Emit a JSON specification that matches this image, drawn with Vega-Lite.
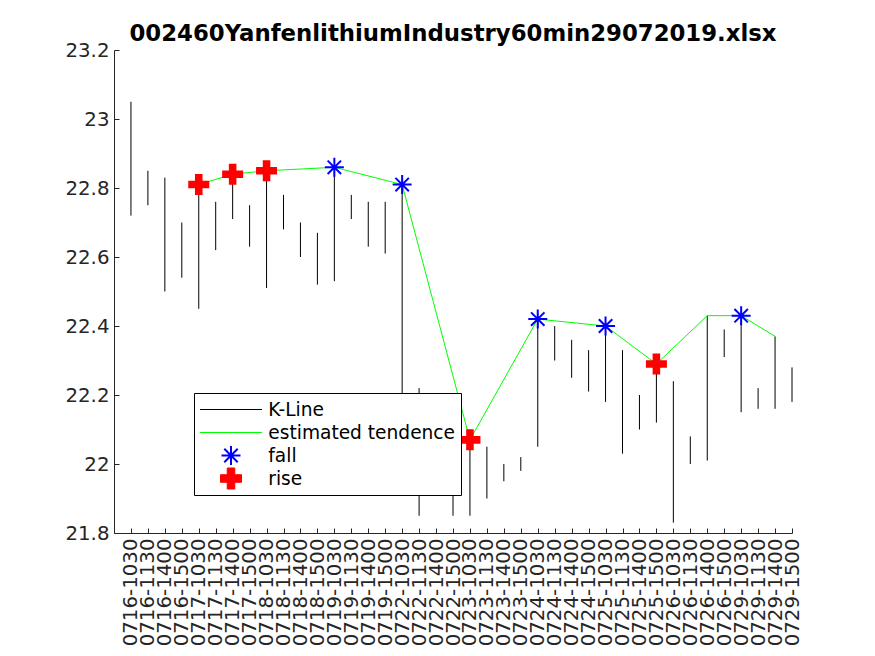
{
  "$schema": "https://vega.github.io/schema/vega-lite/v6.json",
  "width": 678,
  "height": 483,
  "autosize": {"type": "none"},
  "padding": {"left": 114, "top": 50, "right": 83, "bottom": 123},
  "background": "white",
  "title": {
    "text": "002460YanfenlithiumIndustry60min29072019.xlsx",
    "font": "DejaVu Sans",
    "fontSize": 22.8,
    "fontWeight": "bold",
    "color": "black",
    "anchor": "middle",
    "frame": "group",
    "baseline": "alphabetic",
    "offset": 8,
    "dy": 31.5
  },
  "config": {
    "view": {"stroke": null},
    "axis": {
      "grid": false,
      "domainColor": "#262626",
      "tickColor": "#262626",
      "labelColor": "#262626",
      "labelFont": "DejaVu Sans",
      "labelFontSize": 19.8,
      "tickSize": -5,
      "title": null
    }
  },
  "data": {
    "values": [
      {"t": "0716-1030", "lo": 22.72, "hi": 23.05},
      {"t": "0716-1130", "lo": 22.75, "hi": 22.85},
      {"t": "0716-1400", "lo": 22.50, "hi": 22.83},
      {"t": "0716-1500", "lo": 22.54, "hi": 22.70},
      {"t": "0717-1030", "lo": 22.45, "hi": 22.81, "tend": 22.81, "sig": "rise"},
      {"t": "0717-1130", "lo": 22.62, "hi": 22.76},
      {"t": "0717-1400", "lo": 22.71, "hi": 22.84, "tend": 22.84, "sig": "rise"},
      {"t": "0717-1500", "lo": 22.63, "hi": 22.75},
      {"t": "0718-1030", "lo": 22.51, "hi": 22.85, "tend": 22.85, "sig": "rise"},
      {"t": "0718-1130", "lo": 22.68, "hi": 22.78},
      {"t": "0718-1400", "lo": 22.60, "hi": 22.70},
      {"t": "0718-1500", "lo": 22.52, "hi": 22.67},
      {"t": "0719-1030", "lo": 22.53, "hi": 22.86, "tend": 22.86, "sig": "fall"},
      {"t": "0719-1130", "lo": 22.71, "hi": 22.78},
      {"t": "0719-1400", "lo": 22.63, "hi": 22.76},
      {"t": "0719-1500", "lo": 22.61, "hi": 22.76},
      {"t": "0722-1030", "lo": 22.10, "hi": 22.81, "tend": 22.81, "sig": "fall"},
      {"t": "0722-1130", "lo": 21.85, "hi": 22.22},
      {"t": "0722-1400", "lo": 21.95, "hi": 22.15},
      {"t": "0722-1500", "lo": 21.85, "hi": 22.10},
      {"t": "0723-1030", "lo": 21.85, "hi": 22.07, "tend": 22.07, "sig": "rise"},
      {"t": "0723-1130", "lo": 21.90, "hi": 22.05},
      {"t": "0723-1400", "lo": 21.95, "hi": 22.00},
      {"t": "0723-1500", "lo": 21.98, "hi": 22.02},
      {"t": "0724-1030", "lo": 22.05, "hi": 22.42, "tend": 22.42, "sig": "fall"},
      {"t": "0724-1130", "lo": 22.30, "hi": 22.40},
      {"t": "0724-1400", "lo": 22.25, "hi": 22.36},
      {"t": "0724-1500", "lo": 22.21, "hi": 22.33},
      {"t": "0725-1030", "lo": 22.18, "hi": 22.40, "tend": 22.40, "sig": "fall"},
      {"t": "0725-1130", "lo": 22.03, "hi": 22.33},
      {"t": "0725-1400", "lo": 22.10, "hi": 22.20},
      {"t": "0725-1500", "lo": 22.12, "hi": 22.29, "tend": 22.29, "sig": "rise"},
      {"t": "0726-1030", "lo": 21.83, "hi": 22.24},
      {"t": "0726-1130", "lo": 22.00, "hi": 22.08},
      {"t": "0726-1400", "lo": 22.01, "hi": 22.43, "tend": 22.43},
      {"t": "0726-1500", "lo": 22.31, "hi": 22.39},
      {"t": "0729-1030", "lo": 22.15, "hi": 22.43, "tend": 22.43, "sig": "fall"},
      {"t": "0729-1130", "lo": 22.16, "hi": 22.22},
      {"t": "0729-1400", "lo": 22.16, "hi": 22.37, "tend": 22.37},
      {"t": "0729-1500", "lo": 22.18, "hi": 22.28}
    ]
  },
  "encoding": {
    "x": {
      "field": "t",
      "type": "ordinal",
      "scale": {
        "type": "point",
        "padding": 0,
        "domain": ["", "0716-1030","0716-1130","0716-1400","0716-1500","0717-1030","0717-1130","0717-1400","0717-1500","0718-1030","0718-1130","0718-1400","0718-1500","0719-1030","0719-1130","0719-1400","0719-1500","0722-1030","0722-1130","0722-1400","0722-1500","0723-1030","0723-1130","0723-1400","0723-1500","0724-1030","0724-1130","0724-1400","0724-1500","0725-1030","0725-1130","0725-1400","0725-1500","0726-1030","0726-1130","0726-1400","0726-1500","0729-1030","0729-1130","0729-1400","0729-1500"]
      },
      "axis": {
        "values": ["0716-1030","0716-1130","0716-1400","0716-1500","0717-1030","0717-1130","0717-1400","0717-1500","0718-1030","0718-1130","0718-1400","0718-1500","0719-1030","0719-1130","0719-1400","0719-1500","0722-1030","0722-1130","0722-1400","0722-1500","0723-1030","0723-1130","0723-1400","0723-1500","0724-1030","0724-1130","0724-1400","0724-1500","0725-1030","0725-1130","0725-1400","0725-1500","0726-1030","0726-1130","0726-1400","0726-1500","0729-1030","0729-1130","0729-1400","0729-1500"],
        "labelAngle": -90,
        "labelPadding": 10,
        "labelOverlap": false
      }
    }
  },
  "layer": [
    {
      "mark": {"type": "rule", "strokeWidth": 1},
      "encoding": {
        "y": {
          "field": "lo",
          "type": "quantitative",
          "scale": {"domain": [21.8, 23.2], "nice": false, "zero": false},
          "axis": {
            "values": [21.8, 22, 22.2, 22.4, 22.6, 22.8, 23, 23.2],
            "format": ".1~f",
            "labelPadding": 10
          }
        },
        "y2": {"field": "hi"},
        "color": {
          "datum": "K-Line",
          "title": null,
          "scale": {
            "domain": ["K-Line", "estimated tendence", "fall", "rise"],
            "range": ["black", "#00ff00", "blue", "red"]
          },
          "legend": {
            "title": null,
            "orient": "none",
            "legendX": 80,
            "legendY": 343,
            "direction": "vertical",
            "columns": 1,
            "fillColor": "white",
            "strokeColor": "black",
            "padding": 5,
            "labelFont": "DejaVu Sans",
            "labelFontSize": 18.6,
            "labelColor": "black",
            "labelLimit": 0,
            "labelOffset": 28,
            "symbolOffset": 22.7,
            "symbolSize": 3844,
            "symbolType": "stroke",
            "clipHeight": 23,
            "rowPadding": 0,
            "encode": {
              "symbols": {
                "update": {
                  "shape": {"signal": "datum.value === 'fall' ? 'M0,-1V1M-1,0H1M-0.7071,-0.7071L0.7071,0.7071M-0.7071,0.7071L0.7071,-0.7071' : datum.value === 'rise' ? 'M-0.36,-1H0.36V-0.36H1V0.36H0.36V1H-0.36V0.36H-1V-0.36H-0.36Z' : 'stroke'"},
                  "size": {"signal": "datum.value === 'fall' ? 361 : datum.value === 'rise' ? 441 : 3844"},
                  "fill": {"signal": "datum.value === 'rise' ? 'red' : 'transparent'"},
                  "stroke": {"signal": "datum.value === 'K-Line' ? 'black' : datum.value === 'estimated tendence' ? '#00ff00' : datum.value === 'fall' ? 'blue' : 'transparent'"},
                  "strokeWidth": {"signal": "datum.value === 'fall' ? 2 : 1"},
                  "opacity": {"value": 1}
                }
              }
            }
          }
        }
      }
    },
    {
      "transform": [{"filter": "isValid(datum.tend)"}],
      "mark": {"type": "line", "strokeWidth": 1},
      "encoding": {
        "y": {"field": "tend", "type": "quantitative"},
        "color": {"datum": "estimated tendence", "title": null}
      }
    },
    {
      "transform": [{"filter": "datum.sig === 'fall'"}],
      "mark": {
        "type": "point",
        "filled": false,
        "shape": "M0,-1V1M-1,0H1M-0.7071,-0.7071L0.7071,0.7071M-0.7071,0.7071L0.7071,-0.7071",
        "size": 361,
        "strokeWidth": 2,
        "opacity": 1
      },
      "encoding": {
        "y": {"field": "tend", "type": "quantitative"},
        "color": {"field": "sig", "type": "nominal", "title": null}
      }
    },
    {
      "transform": [{"filter": "datum.sig === 'rise'"}],
      "mark": {
        "type": "point",
        "filled": true,
        "shape": "M-0.36,-1H0.36V-0.36H1V0.36H0.36V1H-0.36V0.36H-1V-0.36H-0.36Z",
        "size": 441,
        "strokeWidth": 0,
        "opacity": 1
      },
      "encoding": {
        "y": {"field": "tend", "type": "quantitative"},
        "color": {"field": "sig", "type": "nominal", "title": null}
      }
    }
  ]
}
